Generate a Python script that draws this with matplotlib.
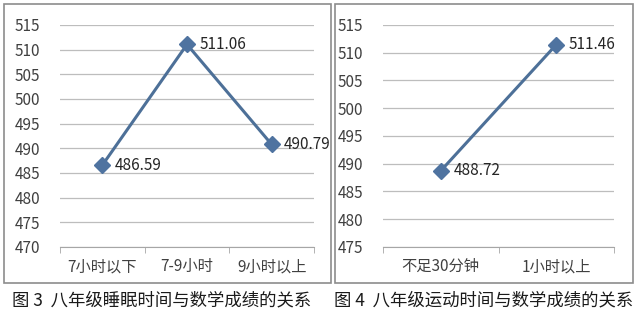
import matplotlib.pyplot as plt
from matplotlib.patches import Rectangle

plt.rcParams['font.family'] = ['Noto Sans CJK SC', 'DejaVu Sans']

# data
sleep_cats = ['7小时以下', '7-9小时', '9小时以上']
sleep_scores = [486.59, 511.06, 490.79]
sport_cats = ['不足30分钟', '1小时以上']
sport_scores = [488.72, 511.46]
sleep_yticks = list(range(470, 516, 5))
sport_yticks = list(range(475, 516, 5))
captions = ['图 3  八年级睡眠时间与数学成绩的关系', '图 4  八年级运动时间与数学成绩的关系']

W, H = 640, 317
line_c = '#4d7098'
text_c = '#404040'

fig = plt.figure(figsize=(W / 100, H / 100), dpi=100)
fig.patch.set_facecolor('white')


def px(x0, y0, x1, y1):
    # pixel box (top-left origin) -> figure fraction rect
    return [x0 / W, 1 - y1 / H, (x1 - x0) / W, (y1 - y0) / H]


# outer chart frames
for (x0, x1) in [(4, 331), (335, 633)]:
    fig.add_artist(Rectangle((x0 / W, 1 - 283 / H), (x1 - x0) / W, 279 / H,
                             transform=fig.transFigure, fill=False,
                             edgecolor='#8c8c8c', linewidth=1.2))


def draw(ax, cats, vals, yticks):
    n = len(cats)
    xs = list(range(n))
    ax.set_xlim(-0.5, n - 0.5)
    ax.set_ylim(yticks[0], yticks[-1])
    ax.set_yticks(yticks)
    ax.grid(axis='y', color='#bdbdbd', linewidth=0.9)
    ax.set_axisbelow(True)
    for s in ['left', 'right', 'top']:
        ax.spines[s].set_visible(False)
    ax.spines['bottom'].set_color('#a6a6a6')
    ax.set_xticks(xs)
    ax.set_xticklabels(cats, fontsize=11, color=text_c)
    ax.tick_params(axis='x', length=0, pad=8)
    ax.set_xticks([i - 0.5 for i in range(n + 1)], minor=True)
    ax.tick_params(axis='x', which='minor', length=4, color='#a6a6a6')
    ax.tick_params(axis='y', length=0, labelsize=11, labelcolor=text_c, pad=14)
    ax.plot(xs, vals, color=line_c, linewidth=2.2, marker='D', markersize=8,
            markerfacecolor='#4f73a0', markeredgecolor='#4f73a0', clip_on=False)
    for x, v in zip(xs, vals):
        ax.annotate(f'{v:.2f}', (x, v), xytext=(9, 0), textcoords='offset points',
                    va='center', ha='left', fontsize=11, color='#262626')


ax1 = fig.add_axes(px(60, 25, 314, 247))
draw(ax1, sleep_cats, sleep_scores, sleep_yticks)
ax2 = fig.add_axes(px(383, 25, 614, 247))
draw(ax2, sport_cats, sport_scores, sport_yticks)

fig.text(162 / W, 1 - 300 / H, captions[0], ha='center', va='center',
         fontsize=12.5, color='#1a1a1a')
fig.text(484 / W, 1 - 300 / H, captions[1], ha='center', va='center',
         fontsize=12.5, color='#1a1a1a')

fig.savefig('out.png', dpi=100)
